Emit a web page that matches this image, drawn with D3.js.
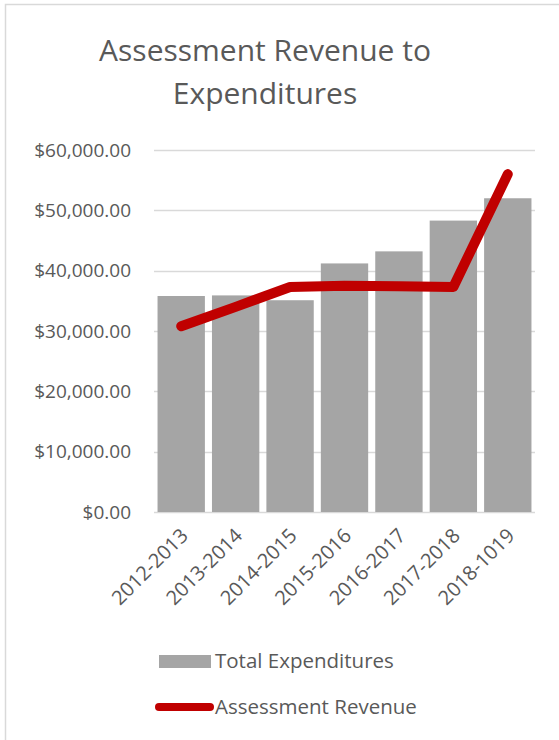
<!DOCTYPE html>
<html>
<head>
<meta charset="utf-8">
<script src="https://cdn.jsdelivr.net/npm/d3@7"></script>
<style>
  body { margin: 0; background: #fff; }
  text { font-family: "Open Sans", "Noto Sans", sans-serif; fill: #595959; }
</style>
</head>
<body>
<div id="chart"></div>
<script>
const years = ["2012-2013", "2013-2014", "2014-2015", "2015-2016", "2016-2017", "2017-2018", "2018-1019"]
const expenditures = [35800, 35900, 35100, 41200, 43200, 48300, 52000]
const revenue = [30800, 34000, 37300, 37500, 37400, 37300, 56000]
const yTicks = [0, 10000, 20000, 30000, 40000, 50000, 60000]
const titleLines = ["Assessment Revenue to", "Expenditures"]

const W = 559, H = 740
const margin = {left: 154, right: 24, top: 150, bottom: 228}

const svg = d3.select("#chart").append("svg")
  .attr("width", W).attr("height", H)

// chart frame
svg.append("rect")
  .attr("x", 5.5).attr("y", 4.5)
  .attr("width", W + 10).attr("height", H + 10)
  .attr("fill", "none").attr("stroke", "#d9d9d9").attr("stroke-width", 1.5)

// title
svg.append("g").selectAll("text").data(titleLines).join("text")
  .attr("x", 265)
  .attr("y", (d, i) => 61 + i * 43)
  .attr("text-anchor", "middle")
  .attr("font-size", 30)
  .text(d => d)

const x = d3.scaleBand().domain(years)
  .range([margin.left, W - margin.right]).paddingInner(0.13).paddingOuter(0.065)
const y = d3.scaleLinear().domain([0, 60000]).range([H - margin.bottom, margin.top])

// gridlines
svg.append("g").selectAll("line").data(yTicks).join("line")
  .attr("x1", margin.left).attr("x2", W - margin.right)
  .attr("y1", d => Math.round(y(d)) + 0.5).attr("y2", d => Math.round(y(d)) + 0.5)
  .attr("stroke", "#d9d9d9").attr("stroke-width", 1.5)

// y axis labels
const fmt = d3.format("$,.2f")
const yAxis = svg.append("g")
  .attr("transform", `translate(${margin.left - 23},0)`)
  .call(d3.axisLeft(y).tickValues(yTicks).tickFormat(fmt).tickSize(0).tickPadding(0))
yAxis.select(".domain").remove()
yAxis.attr("font-size", null).attr("font-family", null)
yAxis.selectAll("text").attr("font-size", 19).attr("fill", "#595959")

// bars
svg.append("g").selectAll("rect").data(expenditures).join("rect")
  .attr("x", (d, i) => x(years[i]))
  .attr("y", d => y(d))
  .attr("width", x.bandwidth())
  .attr("height", d => y(0) - y(d))
  .attr("fill", "#a5a5a5")

// line
const line = d3.line()
  .x((d, i) => x(years[i]) + x.bandwidth() / 2)
  .y(d => y(d))
svg.append("path").datum(revenue)
  .attr("d", line)
  .attr("fill", "none").attr("stroke", "#c00000")
  .attr("stroke-width", 10).attr("stroke-linecap", "round").attr("stroke-linejoin", "round")

// x axis labels
const xAxis = svg.append("g")
  .attr("transform", `translate(0,${y(0)})`)
  .call(d3.axisBottom(x).tickSize(0).tickPadding(0))
xAxis.select(".domain").remove()
xAxis.attr("font-size", null).attr("font-family", null)
xAxis.selectAll("text")
  .attr("font-size", 20).attr("fill", "#595959")
  .attr("text-anchor", "end")
  .attr("dy", 0).attr("y", 0)
  .attr("transform", "translate(8,25) rotate(-45)")

// legend
const legend = svg.append("g")
legend.append("rect")
  .attr("x", 159).attr("y", 655).attr("width", 52).attr("height", 13)
  .attr("fill", "#a5a5a5")
legend.append("text").attr("x", 215).attr("y", 668)
  .attr("font-size", 20.5).text("Total Expenditures")
legend.append("line")
  .attr("x1", 159).attr("x2", 210).attr("y1", 707).attr("y2", 707)
  .attr("stroke", "#c00000").attr("stroke-width", 8).attr("stroke-linecap", "round")
legend.append("text").attr("x", 215).attr("y", 714)
  .attr("font-size", 20.5).text("Assessment Revenue")
</script>
</body>
</html>
